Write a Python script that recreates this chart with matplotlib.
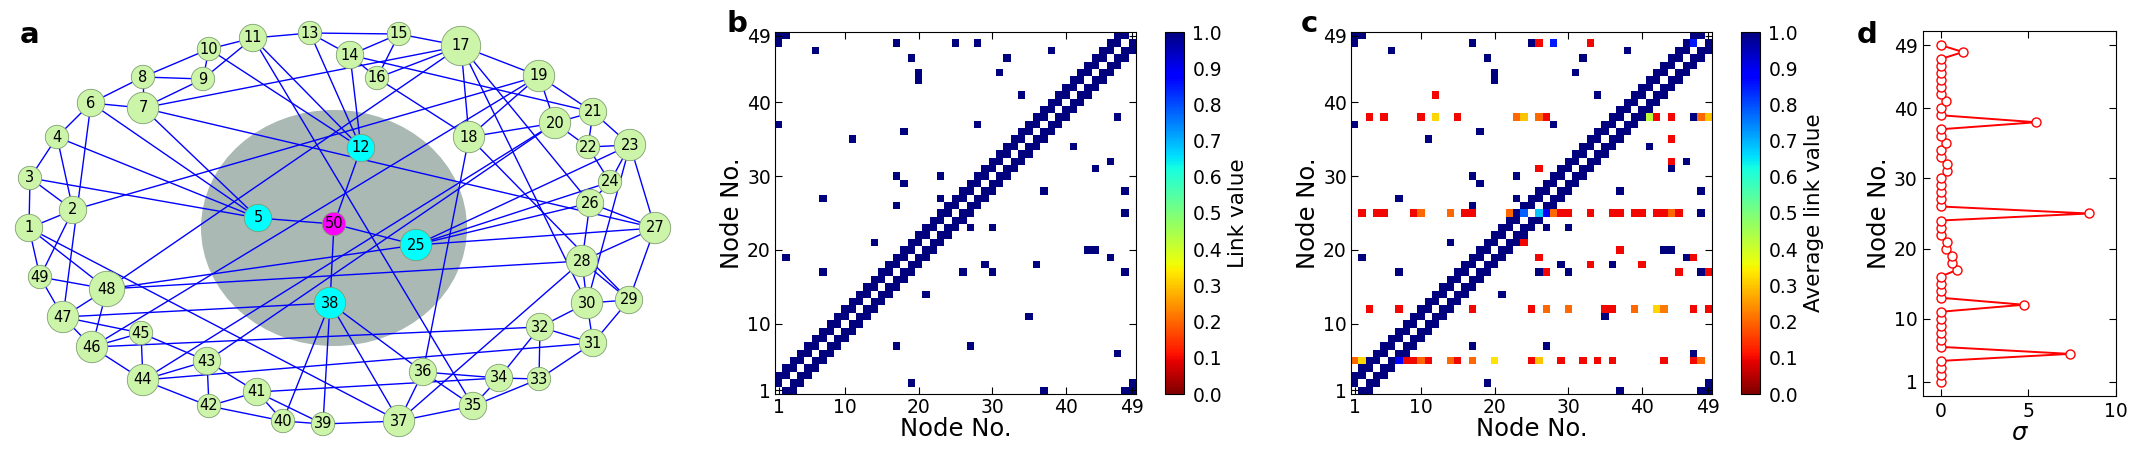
import numpy as np
import matplotlib
matplotlib.use("Agg")
import matplotlib.pyplot as plt
from matplotlib.patches import Circle, Ellipse
from matplotlib.collections import LineCollection

# ---- data -------------------------------------------------------------
n_nodes = 49
hidden_node = 50
ring_offsets = [1, 2]

# shortcut links (true network)
shortcuts = [(6, 47), (17, 48), (25, 48), (19, 46), (20, 44), (20, 43), (32, 46),
             (31, 44), (38, 47), (34, 41), (1, 37), (28, 37), (18, 36), (11, 35),
             (17, 30), (18, 29), (23, 30), (7, 27), (23, 27), (17, 26), (28, 48),
             (14, 21), (2, 19), (7, 17)]
hidden_links = [5, 12, 25, 38]

# node layout of panel a (pixel units, y downwards), nodes 1..50
node_x = [29, 73, 30, 57, 258, 91, 143, 143, 203, 209, 253, 361, 310, 350, 399, 377,
          461, 469, 539, 555, 593, 588, 630, 610, 416, 590, 655, 582, 629, 587, 593,
          540, 539, 499, 473, 423, 399, 330, 323, 283, 257, 209, 207, 143, 141, 92,
          63, 107, 40, 334]
node_y = [228, 210, 178, 137, 218, 103, 108, 77, 79, 49, 38, 148, 33, 55, 34, 78,
          46, 137, 76, 123, 112, 147, 145, 182, 245, 203, 228, 261, 300, 303, 343,
          327, 379, 378, 406, 372, 421, 303, 424, 421, 392, 406, 361, 380, 333, 347,
          317, 289, 277, 224]

# reconstructed (average) link values, panel c: (column, value) per row
hidden_row_cells = {
    5: [(1, 0.2), (2, 0.32), (8, 0.1), (9, 0.1), (10, 0.2), (11, 0.1), (14, 0.2),
        (15, 0.1), (17, 0.2), (20, 0.33), (25, 0.1), (26, 0.3), (29, 0.1), (32, 0.1),
        (34, 0.1), (36, 0.1), (43, 0.1), (47, 0.1), (48, 0.2)],
    12: [(3, 0.1), (7, 0.1), (17, 0.1), (25, 0.1), (27, 0.2), (30, 0.2), (35, 0.1),
         (36, 0.1), (39, 0.2), (42, 0.32), (43, 0.22), (47, 0.1), (49, 0.1)],
    25: [(2, 0.1), (4, 0.1), (5, 0.1), (9, 0.1), (10, 0.2), (14, 0.2), (16, 0.1),
         (17, 0.1), (22, 0.2), (28, 0.2), (29, 0.1), (30, 0.1), (33, 0.1), (36, 0.1),
         (37, 0.1), (39, 0.1), (40, 0.1), (42, 0.1), (43, 0.1), (44, 0.2), (45, 0.1)],
    38: [(3, 0.1), (5, 0.1), (10, 0.1), (12, 0.32), (15, 0.1), (23, 0.2), (24, 0.3),
         (26, 0.2), (27, 0.1), (41, 0.42), (42, 0.1), (44, 0.1), (48, 0.2), (49, 0.3)],
}
# other cells in panel c as (column, row, value)
extra_cells = [(12, 41, 0.1), (26, 48, 0.1), (33, 48, 0.1), (26, 31, 0.1), (44, 35, 0.1),
               (44, 32, 0.1), (24, 21, 0.1), (26, 19, 0.1), (27, 17, 0.1), (33, 18, 0.1),
               (37, 20, 0.1), (40, 18, 0.1), (45, 17, 0.1), (47, 19, 0.1), (49, 17, 0.1),
               (28, 48, 0.85), (47, 48, 0.85), (24, 25, 0.78), (26, 25, 0.68),
               (27, 25, 0.88), (7, 5, 0.88)]

# panel d: sigma per node
sigma = [0, 0, 0, 0, 7.4, 0, 0, 0, 0, 0, 0, 4.75, 0, 0, 0, 0, 0.96, 0.65, 0.65, 0.33,
         0.37, 0, 0, 0, 8.45, 0, 0, 0, 0, 0, 0.35, 0.35, 0, 0, 0.33, 0, 0, 5.45, 0, 0,
         0.33, 0, 0, 0, 0, 0, 0, 1.28, 0]

tick_nodes = [1, 10, 20, 30, 40, 49]

# ---- figure -----------------------------------------------------------
W, H = 2140, 457
fig = plt.figure(figsize=(W / 100, H / 100), dpi=100)


def rect(x0, y0, x1, y1):
    """Pixel box (top-left origin) -> figure fraction rect."""
    return [x0 / W, 1 - y1 / H, (x1 - x0) / W, (y1 - y0) / H]


TICK_FS = 13.5
LABEL_FS = 17.5

# links list for the network
links = []
for off in ring_offsets:
    for i in range(1, n_nodes + 1):
        links.append((i, (i - 1 + off) % n_nodes + 1))
links += shortcuts
links += [(hidden_node, k) for k in hidden_links]

# ---- panel a: network -------------------------------------------------
ax_a = fig.add_axes(rect(0, 0, 700, 457))
ax_a.set_xlim(0, 700)
ax_a.set_ylim(457, 0)
ax_a.axis("off")

ax_a.add_patch(Ellipse((334, 228), 266, 236, facecolor="#aab9b4", edgecolor="none", zorder=1))

segs = [[(node_x[a - 1], node_y[a - 1]), (node_x[b - 1], node_y[b - 1])] for a, b in links]
ax_a.add_collection(LineCollection(segs, colors="#0000ff", linewidths=1.0, zorder=2))

degree = np.zeros(hidden_node, dtype=int)
for a, b in links:
    degree[a - 1] += 1
    degree[b - 1] += 1

for k in range(hidden_node):
    node = k + 1
    if node == hidden_node:
        fc = "#ff00ff"
    elif node in hidden_links:
        fc = "#00ffff"
    else:
        fc = "#ccf5aa"
    r = 11.7 + 2.0 * (degree[k] - 4)
    ax_a.add_patch(Circle((node_x[k], node_y[k]), r, facecolor=fc,
                          edgecolor="#7f9f72", linewidth=0.6, zorder=3))
    ax_a.text(node_x[k], node_y[k], str(node), ha="center", va="center",
              fontsize=10.5, zorder=4)

# ---- adjacency matrices -----------------------------------------------
true_mat = np.zeros((n_nodes, n_nodes))
for a, b in links:
    if a <= n_nodes and b <= n_nodes:
        true_mat[a - 1, b - 1] = 1
        true_mat[b - 1, a - 1] = 1

avg_mat = true_mat.copy()
for row, cells in hidden_row_cells.items():
    for col, v in cells:
        avg_mat[row - 1, col - 1] = v
for col, row, v in extra_cells:
    avg_mat[row - 1, col - 1] = v

cmap = plt.get_cmap("jet_r").copy()
cmap.set_bad("white")


def matrix_panel(ax, cax, mat, cbar_label):
    im = ax.imshow(np.ma.masked_equal(mat, 0), cmap=cmap, vmin=0, vmax=1,
                   origin="lower", interpolation="nearest", aspect="auto")
    ticks = [t - 1 for t in tick_nodes]
    ax.set_xticks(ticks)
    ax.set_yticks(ticks)
    ax.set_xticklabels(tick_nodes)
    ax.set_yticklabels(tick_nodes)
    ax.tick_params(direction="in", top=True, right=True, length=5,
                   labelsize=TICK_FS, pad=3)
    ax.set_xlabel("Node No.", fontsize=LABEL_FS, labelpad=0)
    ax.set_ylabel("Node No.", fontsize=LABEL_FS, labelpad=2)
    cb = fig.colorbar(im, cax=cax, ticks=np.linspace(0, 1, 11))
    cb.ax.set_yticklabels([f"{t:.1f}" for t in np.linspace(0, 1, 11)])
    cb.ax.tick_params(labelsize=TICK_FS, length=0, pad=6)
    cb.set_label(cbar_label, fontsize=15.5, labelpad=4)


ax_b = fig.add_axes(rect(775, 32, 1136, 394))
cax_b = fig.add_axes(rect(1165, 32, 1184, 394))
matrix_panel(ax_b, cax_b, true_mat, "Link value")

ax_c = fig.add_axes(rect(1351, 32, 1712, 394))
cax_c = fig.add_axes(rect(1741, 32, 1760, 394))
matrix_panel(ax_c, cax_c, avg_mat, "Average link value")

# ---- panel d: sigma ---------------------------------------------------
ax_d = fig.add_axes(rect(1923, 31, 2116, 396))
nodes = np.arange(1, n_nodes + 1)
ax_d.plot(sigma, nodes, "-o", color="red", lw=1.4, ms=6.5,
          mfc="white", mec="red", mew=1.0)
ax_d.set_xlim(-1, 10)
ax_d.set_ylim(-1, 51)
ax_d.set_xticks([0, 5, 10])
ax_d.set_yticks(tick_nodes)
ax_d.tick_params(direction="in", top=True, right=True, length=5,
                 labelsize=TICK_FS, pad=4)
ax_d.set_xlabel(r"$\sigma$", fontsize=LABEL_FS, labelpad=0)
ax_d.set_ylabel("Node No.", fontsize=LABEL_FS, labelpad=2)

# ---- panel letters ----------------------------------------------------
for letter, (x, y) in zip("abcd", [(30, 35), (737, 24), (1309, 24), (1867, 35)]):
    fig.text(x / W, 1 - y / H, letter, fontsize=21, fontweight="bold",
             ha="center", va="center")

fig.savefig("out.png", dpi=100)
